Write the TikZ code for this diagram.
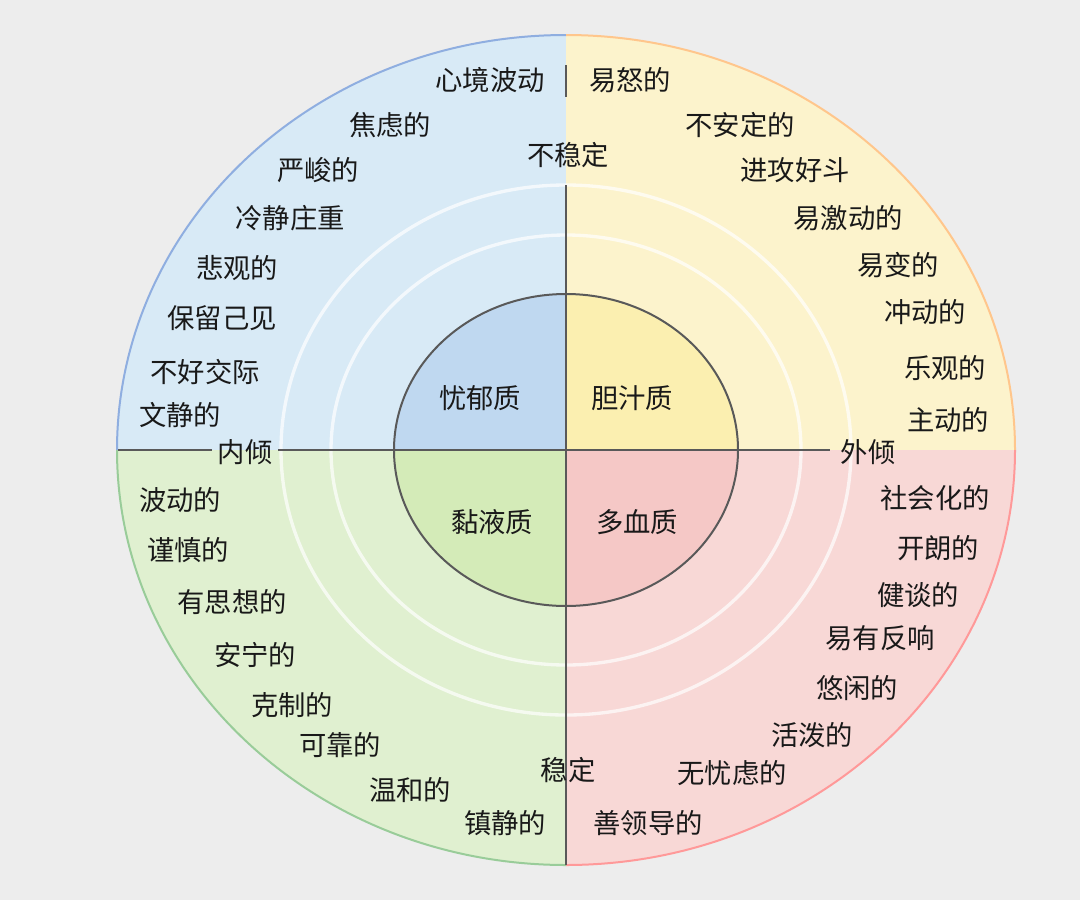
\documentclass[tikz,border=0pt]{standalone}
\usepackage{fontspec}
\setmainfont{Noto Sans CJK SC}
\definecolor{qblue}{HTML}{D8EAF6}
\definecolor{qyellow}{HTML}{FCF3CC}
\definecolor{qred}{HTML}{F8D8D6}
\definecolor{qgreen}{HTML}{E0F0D0}
\definecolor{iblue}{HTML}{BFD8F0}
\definecolor{iyellow}{HTML}{FBEFB0}
\definecolor{ired}{HTML}{F5C8C6}
\definecolor{igreen}{HTML}{D4EBB8}
\begin{document}
\begin{tikzpicture}[x=0.75pt,y=-0.75pt,
  lab/.style={font=\fontsize{20.5}{23}\selectfont,text=black!90,inner sep=1pt},
  ring/.style={draw=white,line width=2.5pt,opacity=0.7},
  axis/.style={draw=gray!70!black,line width=1.3pt}]
\useasboundingbox (0,0) rectangle (1080,900);
\fill[black!7] (0,0) rectangle (1080,900);
\def\cx{566}\def\cy{450}
% quadrants
\fill[qblue] (\cx,\cy) -- (\cx-449,\cy) arc[start angle=180,end angle=270,x radius=449,y radius=415] -- cycle;
\fill[qyellow] (\cx,\cy) -- (\cx,\cy-415) arc[start angle=270,end angle=360,x radius=449,y radius=415] -- cycle;
\fill[qred] (\cx,\cy) -- (\cx+449,\cy) arc[start angle=0,end angle=90,x radius=449,y radius=415] -- cycle;
\fill[qgreen] (\cx,\cy) -- (\cx,\cy+415) arc[start angle=90,end angle=180,x radius=449,y radius=415] -- cycle;
% borders
\draw[cyan!50!blue!45,line width=1.5pt] (\cx-449,\cy) arc[start angle=180,end angle=270,x radius=449,y radius=415];
\draw[orange!45,line width=1.5pt] (\cx,\cy-415) arc[start angle=270,end angle=360,x radius=449,y radius=415];
\draw[red!40,line width=1.5pt] (\cx+449,\cy) arc[start angle=0,end angle=90,x radius=449,y radius=415];
\draw[green!50!black!40,line width=1.5pt] (\cx,\cy+415) arc[start angle=90,end angle=180,x radius=449,y radius=415];
% rings
\draw[ring] (\cx,\cy) ellipse[x radius=285,y radius=265];
\draw[ring] (\cx,\cy) ellipse[x radius=235,y radius=215];
% axes
\coordinate (vt1) at (\cx,65); \coordinate (vt2) at (\cx,97);
\coordinate (vb1) at (\cx,185); \coordinate (vb2) at (\cx,865);
\coordinate (hl1) at (118,\cy); \coordinate (hl2) at (212,\cy);
\coordinate (hr1) at (278,\cy); \coordinate (hr2) at (830,\cy);
\draw[axis] (vt1) -- (vt2);
\draw[axis] (vb1) -- (vb2);
\draw[axis] (hl1) -- (hl2);
\draw[axis] (hr1) -- (hr2);
% inner circle
\fill[iblue] (\cx,\cy) -- (\cx-172,\cy) arc[start angle=180,end angle=270,x radius=172,y radius=156] -- cycle;
\fill[iyellow] (\cx,\cy) -- (\cx,\cy-156) arc[start angle=270,end angle=360,x radius=172,y radius=156] -- cycle;
\fill[ired] (\cx,\cy) -- (\cx+172,\cy) arc[start angle=0,end angle=90,x radius=172,y radius=156] -- cycle;
\fill[igreen] (\cx,\cy) -- (\cx,\cy+156) arc[start angle=90,end angle=180,x radius=172,y radius=156] -- cycle;
\draw[gray!70!black,line width=1.5pt] (\cx,\cy) ellipse[x radius=172,y radius=156];
\draw[axis] (\cx-172,\cy) -- (\cx+172,\cy);
\draw[axis] (\cx,\cy-156) -- (\cx,\cy+156);
% labels
\node[lab] (a1) at (490,80) {心境波动};
\node[lab] (a2) at (630,80) {易怒的};
\node[lab] (a3) at (390,125) {焦虑的};
\node[lab] (a4) at (740,125) {不安定的};
\node[lab] (a5) at (568,155) {不稳定};
\node[lab] (a6) at (318,170) {严峻的};
\node[lab] (a7) at (795,170) {进攻好斗};
\node[lab] (a8) at (290,218) {冷静庄重};
\node[lab] (a9) at (848,218) {易激动的};
\node[lab] (a10) at (237,268) {悲观的};
\node[lab] (a11) at (898,265) {易变的};
\node[lab] (a12) at (222,318) {保留己见};
\node[lab] (a13) at (925,312) {冲动的};
\node[lab] (a14) at (205,372) {不好交际};
\node[lab] (a15) at (945,368) {乐观的};
\node[lab] (a16) at (180,415) {文静的};
\node[lab] (a17) at (948,420) {主动的};
\node[lab] (a18) at (245,452) {内倾};
\node[lab] (a19) at (868,452) {外倾};
\node[lab] (q1) at (480,398) {忧郁质};
\node[lab] (q2) at (632,398) {胆汁质};
\node[lab] (q3) at (492,522) {黏液质};
\node[lab] (q4) at (637,522) {多血质};
\node[lab] (b1) at (180,500) {波动的};
\node[lab] (b2) at (935,498) {社会化的};
\node[lab] (b3) at (188,550) {谨慎的};
\node[lab] (b4) at (938,548) {开朗的};
\node[lab] (b5) at (232,602) {有思想的};
\node[lab] (b6) at (918,595) {健谈的};
\node[lab] (b7) at (255,655) {安宁的};
\node[lab] (b8) at (880,638) {易有反响};
\node[lab] (b9) at (292,705) {克制的};
\node[lab] (b10) at (857,688) {悠闲的};
\node[lab] (b11) at (340,745) {可靠的};
\node[lab] (b12) at (812,735) {活泼的};
\node[lab] (b13) at (410,790) {温和的};
\node[lab] (b14) at (568,770) {稳定};
\node[lab] (b15) at (732,773) {无忧虑的};
\node[lab] (b16) at (505,823) {镇静的};
\node[lab] (b17) at (648,823) {善领导的};
\end{tikzpicture}
\end{document}
